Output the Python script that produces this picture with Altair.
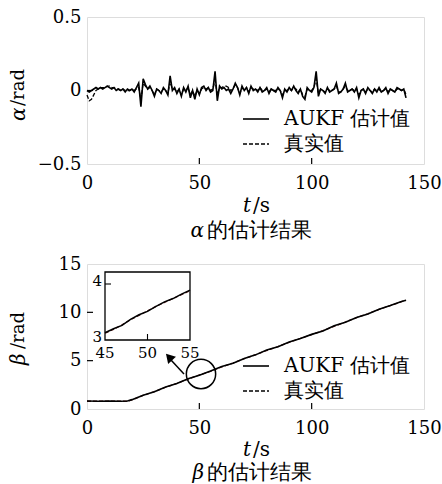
import altair as alt
import pandas as pd

# ---------------- data ----------------
series_names = ["AUKF 估计值", "真实值"]

t_alpha = list(range(0, 143))
alpha_est = [
    0.00, -0.01, 0.00, 0.01, 0.02, 0.01, 0.02, 0.01, 0.02, 0.03,
    0.02, 0.01, 0.02, 0.00, 0.01, 0.00, 0.01, -0.01, 0.01, 0.00,
    0.01, -0.01, 0.02, 0.05, -0.11, 0.08, 0.04, 0.01, 0.03, 0.00,
    -0.04, 0.01, 0.00, -0.02, 0.02, 0.00, -0.03, 0.10, 0.00, 0.02,
    -0.02, 0.01, -0.04, 0.02, -0.01, 0.03, -0.05, 0.00, -0.06, 0.01,
    -0.03, 0.02, 0.03, 0.00, 0.02, -0.01, 0.00, 0.13, -0.07, 0.03,
    0.01, 0.02, 0.00, 0.01, -0.02, 0.01, 0.05, 0.02, -0.03, 0.03,
    0.00, 0.02, -0.02, 0.03, 0.00, 0.01, -0.01, 0.02, -0.01, 0.00,
    0.02, -0.02, 0.01, 0.00, -0.01, 0.02, 0.00, -0.05, 0.01, -0.01,
    0.02, 0.00, 0.03, 0.00, -0.02, 0.01, -0.04, -0.06, 0.02, 0.00,
    -0.01, 0.02, 0.13, -0.04, 0.01, 0.00, -0.02, 0.02, -0.01, 0.00,
    0.01, 0.05, -0.02, -0.01, 0.01, 0.05, -0.01, 0.00, 0.01, -0.01,
    0.02, -0.05, 0.00, 0.01, -0.02, 0.02, 0.00, -0.02, 0.01, -0.01,
    0.02, -0.01, 0.00, 0.02, -0.02, 0.01, 0.00, -0.01, 0.02, 0.01,
    0.00, 0.01, -0.05]
alpha_true = [
    -0.03, -0.07, -0.06, -0.03, 0.00, 0.01, 0.02, 0.02, 0.02, 0.03,
    0.03, 0.02, 0.02, 0.01, 0.01, 0.00, 0.01, 0.00, 0.00, 0.00,
    0.01, 0.00, 0.01, 0.02, -0.06, 0.05, 0.03, 0.01, 0.02, 0.00,
    -0.03, 0.01, 0.00, -0.01, 0.01, 0.00, -0.02, 0.06, 0.01, 0.01,
    -0.01, 0.01, -0.03, 0.01, 0.00, 0.02, -0.03, 0.00, -0.04, 0.00,
    -0.02, 0.01, 0.02, 0.01, 0.02, 0.00, 0.01, 0.07, -0.03, 0.02,
    0.02, 0.03, 0.03, 0.02, 0.00, 0.01, 0.04, 0.02, -0.02, 0.02,
    0.00, 0.02, -0.01, 0.02, 0.01, 0.01, 0.00, 0.02, 0.00, 0.00,
    0.01, -0.01, 0.01, 0.00, 0.00, 0.01, 0.00, -0.03, 0.00, 0.00,
    0.01, 0.00, 0.02, 0.01, -0.01, 0.01, -0.03, -0.04, 0.01, 0.00,
    0.00, 0.02, 0.08, -0.02, 0.01, 0.00, -0.01, 0.01, 0.00, 0.00,
    0.01, 0.03, -0.01, -0.01, 0.01, 0.03, 0.00, 0.00, 0.01, 0.00,
    0.01, -0.03, 0.00, 0.01, -0.01, 0.01, 0.00, -0.01, 0.01, 0.00,
    0.01, -0.01, 0.00, 0.01, -0.01, 0.01, 0.00, -0.01, 0.01, 0.01,
    0.00, 0.01, -0.03]

t_beta = [0, 5, 10, 15, 18, 20, 25, 30, 35, 40, 45, 50, 55, 60, 65, 70,
          75, 80, 85, 90, 95, 100, 105, 110, 115, 120, 125, 130, 135, 140, 142]
beta_true = [0.8, 0.8, 0.8, 0.8, 0.8, 0.95, 1.4, 1.8, 2.25, 2.65, 3.1, 3.52,
             3.9, 4.35, 4.75, 5.2, 5.6, 6.05, 6.45, 6.9, 7.3, 7.7, 8.1, 8.55,
             9.0, 9.45, 9.85, 10.3, 10.7, 11.1, 11.25]
beta_est = [0.82, 0.8, 0.82, 0.8, 0.82, 0.97, 1.42, 1.78, 2.27, 2.63, 3.12,
            3.5, 3.92, 4.4, 4.73, 5.22, 5.6, 6.1, 6.43, 6.92, 7.3, 7.72, 8.08,
            8.62, 8.98, 9.47, 9.83, 10.33, 10.7, 11.12, 11.25]

t_inset = [45, 46, 47, 48, 49, 50, 51, 52, 53, 54, 55]
inset_true = [3.12, 3.19, 3.27, 3.36, 3.44, 3.52, 3.6, 3.67, 3.74, 3.81, 3.88]
inset_est = [3.13, 3.2, 3.26, 3.37, 3.45, 3.51, 3.6, 3.68, 3.74, 3.82, 3.89]

x_ticks = [0, 50, 100, 150]
x_inner_ticks = [50, 100]
alpha_ticks = [-0.5, 0, 0.5]
alpha_inner_ticks = [0]
beta_ticks = [0, 5, 10, 15]
beta_inner_ticks = [5, 10]
inset_x_ticks = [45, 50, 55]
inset_y_ticks = [3, 4]

# ---------------- style ----------------
FONT = "DejaVu Serif"
TICK_FS = 18
W = 337
H1 = 147
H2 = 145
LW = 1.6
DASH = [4, 2]

one = pd.DataFrame({"k": [0]})


def xenc(field="t"):
    return alt.X(f"{field}:Q", scale=alt.Scale(domain=[0, 150], nice=False),
                 axis=alt.Axis(values=x_ticks, title=None, ticks=False, tickSize=0,
                               domain=False, grid=False, labelFontSize=TICK_FS,
                               labelFont=FONT, labelColor="black", labelPadding=10,
                               labelFlush=False))


def yenc(domain, values, field="v"):
    return alt.Y(f"{field}:Q", scale=alt.Scale(domain=domain, nice=False),
                 axis=alt.Axis(values=values, title=None, ticks=False, tickSize=0,
                               domain=False, grid=False, labelFontSize=TICK_FS,
                               labelFont=FONT, labelColor="black", labelPadding=6,
                               labelFlush=False,
                               labelExpr="datum.value == 0 ? '0' : format(datum.value, '~g')"))


def txt(s, x, y, size=20, align="left", italic=False, angle=0):
    kw = dict(align=align, baseline="middle", fontSize=size, font=FONT, color="black")
    if italic:
        kw["fontStyle"] = "italic"
    if angle:
        kw["angle"] = angle
    return alt.Chart(one).mark_text(**kw).encode(
        x=alt.value(x), y=alt.value(y), text=alt.value(s))


def legend():
    return [
        alt.Chart(one).mark_rule(color="black", strokeWidth=LW).encode(
            x=alt.value(156), x2=alt.value(182), y=alt.value(102)),
        txt(series_names[0], 197, 102),
        alt.Chart(one).mark_rule(color="black", strokeWidth=1.3, strokeDash=DASH).encode(
            x=alt.value(156), x2=alt.value(182), y=alt.value(127)),
        txt(series_names[1], 197, 127),
    ]


def anchor(y1, y2):
    return alt.Chart(one).mark_rule(color="white", opacity=0, strokeWidth=0.5).encode(
        x=alt.value(-86), y=alt.value(y1), y2=alt.value(y2))


# ---------------- top panel ----------------
ya = yenc([-0.5, 0.5], alpha_ticks)
df_at = pd.DataFrame({"t": t_alpha, "v": alpha_true})
df_ae = pd.DataFrame({"t": t_alpha, "v": alpha_est})

top_layers = [
    anchor(-16, 229),
    alt.Chart(df_at).mark_line(color="black", strokeWidth=1.3, strokeDash=DASH).encode(xenc(), ya),
    alt.Chart(df_ae).mark_line(color="black", strokeWidth=LW).encode(xenc(), ya),
    alt.Chart(pd.DataFrame({"t": x_inner_ticks})).mark_rule(color="black", strokeWidth=1.2).encode(
        x=xenc(), y=alt.value(H1), y2=alt.value(H1 - 6)),
    alt.Chart(pd.DataFrame({"v": alpha_inner_ticks})).mark_rule(color="black", strokeWidth=1.2).encode(
        y=ya, x=alt.value(0), x2=alt.value(6)),
    *legend(),
    txt("α", -68, 104, size=20, italic=True, angle=270),
    txt("/rad", -68, 89, size=18, angle=270),
    txt("t", 164, 189, italic=True, align="right"),
    txt("/s", 166, 189),
    txt("α", 117, 214, italic=True, align="right"),
    txt("的估计结果", 120, 214, size=21),
]
top = alt.layer(*top_layers).properties(width=W, height=H1)

# ---------------- bottom panel ----------------
yb = yenc([0, 15], beta_ticks)
df_bt = pd.DataFrame({"t": t_beta, "v": beta_true})
df_be = pd.DataFrame({"t": t_beta, "v": beta_est})

main_layers = [
    anchor(-16, 210),
    alt.Chart(df_bt).mark_line(color="#5a1a1a", strokeWidth=1.3, strokeDash=DASH).encode(xenc(), yb),
    alt.Chart(df_be).mark_line(color="black", strokeWidth=LW).encode(xenc(), yb),
    alt.Chart(pd.DataFrame({"t": x_inner_ticks})).mark_rule(color="black", strokeWidth=1.2).encode(
        x=xenc(), y=alt.value(H2), y2=alt.value(H2 - 6)),
    alt.Chart(pd.DataFrame({"v": beta_inner_ticks})).mark_rule(color="black", strokeWidth=1.2).encode(
        y=yb, x=alt.value(0), x2=alt.value(6)),
    *legend(),
    alt.Chart(one).mark_point(shape="circle", filled=False, size=860, color="black",
                              strokeWidth=1.5, opacity=1).encode(
        x=alt.value(114), y=alt.value(110)),
    alt.Chart(one).mark_rule(color="black", strokeWidth=1.5).encode(
        x=alt.value(97), y=alt.value(110), x2=alt.value(84), y2=alt.value(96)),
    alt.Chart(one).mark_point(shape="triangle-up", filled=True, size=110, angle=318,
                              color="black", opacity=1).encode(
        x=alt.value(82), y=alt.value(93)),
    txt("β", -68, 101, size=20, italic=True, angle=270),
    txt("/rad", -68, 85, size=18, angle=270),
    txt("t", 164, 186, italic=True, align="right"),
    txt("/s", 166, 186),
    txt("β", 117, 209, italic=True, align="right"),
    txt("的估计结果", 120, 209, size=21),
]
main_b = alt.layer(*main_layers)

ix = alt.X("t:Q", scale=alt.Scale(domain=[45, 55], range=[18, 103], nice=False), axis=None)
iy = alt.Y("v:Q", scale=alt.Scale(domain=[3, 4], range=[76, 20], nice=False), axis=None)
df_it = pd.DataFrame({"t": t_inset, "v": inset_true})
df_ie = pd.DataFrame({"t": t_inset, "v": inset_est})
df_ixl = pd.DataFrame({"t": inset_x_ticks, "lab": [str(v) for v in inset_x_ticks]})
df_iyl = pd.DataFrame({"v": inset_y_ticks, "lab": [str(v) for v in inset_y_ticks]})

inset_layers = [
    alt.Chart(one).mark_rect(fill="white", stroke="black", strokeWidth=1.3).encode(
        x=alt.value(18), x2=alt.value(103), y=alt.value(8), y2=alt.value(76)),
    alt.Chart(df_it).mark_line(color="#5a1a1a", strokeWidth=1.2, strokeDash=DASH).encode(ix, iy),
    alt.Chart(df_ie).mark_line(color="black", strokeWidth=1.5).encode(ix, iy),
    alt.Chart(pd.DataFrame({"t": [50]})).mark_rule(color="black", strokeWidth=1.1).encode(
        x=ix, y=alt.value(76), y2=alt.value(70)),
    alt.Chart(pd.DataFrame({"v": [4]})).mark_rule(color="black", strokeWidth=1.1).encode(
        y=iy, x=alt.value(18), x2=alt.value(24)),
    alt.Chart(df_ixl).mark_text(fontSize=15, font=FONT, baseline="middle", align="center",
                                color="black").encode(x=ix, y=alt.value(89), text="lab:N"),
    alt.Chart(df_iyl).mark_text(fontSize=15, font=FONT, baseline="middle", align="right",
                                color="black", dy=-3).encode(y=iy, x=alt.value(15), text="lab:N"),
]
inset = alt.layer(*inset_layers)

bottom = alt.layer(main_b, inset).resolve_scale(x="independent", y="independent").properties(
    width=W, height=H2)

chart = alt.vconcat(top, bottom, spacing=0).properties(padding=0).configure_view(
    stroke="black", strokeWidth=1.5).configure(background="white")

chart.save("out.html", embed_options={"renderer": "svg", "actions": False})
